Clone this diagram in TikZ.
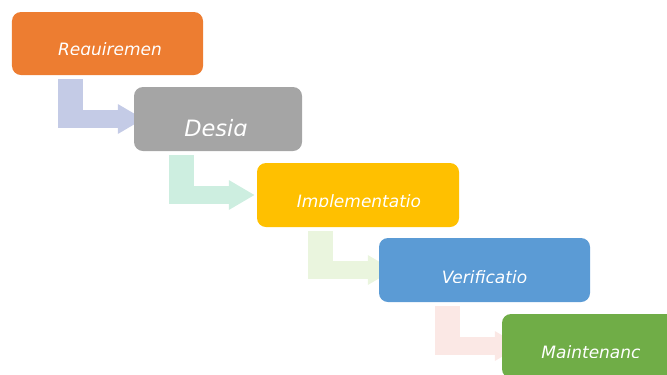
\documentclass[tikz,border=0pt]{standalone}
\usepackage{fontspec}
\setmainfont{DejaVu Sans}
\usetikzlibrary{arrows.meta,backgrounds}

\definecolor{reqorange}{HTML}{ED7D31}
\definecolor{desgray}{HTML}{A5A5A5}
\definecolor{impgold}{HTML}{FFC000}
\definecolor{verblue}{HTML}{5B9BD5}
\definecolor{mntgreen}{HTML}{70AD47}
\definecolor{flowlilac}{HTML}{C4CBE6}
\definecolor{flowmint}{HTML}{CDEEE0}
\definecolor{flowlime}{HTML}{EAF5DE}
\definecolor{flowrose}{HTML}{FBE8E5}

\begin{document}
\begin{tikzpicture}[x=1bp,y=-1bp,line join=miter,
  box/.style={rectangle,rounded corners=9bp,draw=none,minimum height=64bp,inner sep=0pt},
  lbl/.style={text=white,inner sep=0pt,anchor=base,font=\fontsize{17bp}{20bp}\selectfont\itshape},
  flow/.style={line width=18bp,-{Triangle[length=26bp,width=28bp]}},
  stem/.style={line width=25bp},
]
\useasboundingbox (0,0) rectangle (667,374);
%%
\node (req) at (107.5,43.5) [box,fill=reqorange,minimum width=191bp,minimum height=63bp] {};
\node (des) at (218,119) [box,fill=desgray,minimum width=168bp] {};
\node (imp) at (358,195) [box,fill=impgold,minimum width=202bp] {};
\node (ver) at (484.5,270) [box,fill=verblue,minimum width=211bp] {};
\node (mnt) at (595,346) [box,fill=mntgreen,minimum width=186bp] {};
%
\coordinate (s1) at ([xshift=58.5bp,yshift=-4bp]req.south west);
\coordinate (s2) at ([xshift=48bp,yshift=-4bp]des.south west);
\coordinate (s3) at ([xshift=63.5bp,yshift=-4bp]imp.south west);
\coordinate (s4) at ([xshift=69bp,yshift=-4bp]ver.south west);
\coordinate (b1) at ([yshift=-9bp]des.west);
\coordinate (b2) at ([yshift=-9bp]imp.west);
\coordinate (b3) at ([yshift=-9bp]ver.west);
\coordinate (b4) at ([yshift=-9bp]mnt.west);
\begin{scope}[on background layer]
  \draw [stem,flowlilac] (s1) -- (s1 |- b1);
  \draw [flow,flowlilac] (s1) |- ([xshift=10bp]des.west);
  \draw [stem,flowmint] (s2) -- (s2 |- b2);
  \draw [flow,flowmint] (s2) |- ([xshift=-2bp]imp.west);
  \draw [stem,flowlime] (s3) -- (s3 |- b3);
  \draw [flow,flowlime] (s3) |- ([xshift=15bp]ver.west);
  \draw [stem,flowrose] (s4) -- (s4 |- b4);
  \draw [flow,flowrose] (s4) |- ([xshift=19bp]mnt.west);
\end{scope}
% labels, cut off at the bottom
\begin{scope}
  \clip (req.north west) rectangle ([yshift=-10.5bp]req.east);
  \node (req_t) at ([xshift=2.5bp,yshift=-12bp]req.center) [lbl] {Requiremen};
\end{scope}
\begin{scope}
  \clip (des.north west) rectangle ([yshift=-16bp]des.east);
  \node (des_t) at ([xshift=-2bp,yshift=-17.5bp]des.center) [lbl,font=\fontsize{22.5bp}{26bp}\selectfont\itshape] {Desig};
\end{scope}
\begin{scope}
  \clip (imp.north west) rectangle ([yshift=-11bp]imp.east);
  \node (imp_t) at ([xshift=1bp,yshift=-12.5bp]imp.center) [lbl] {Implementatio};
\end{scope}
\begin{scope}
  \clip (ver.north west) rectangle ([yshift=-12bp]ver.east);
  \node (ver_t) at ([yshift=-13.5bp]ver.center) [lbl] {Verificatio};
\end{scope}
\begin{scope}
  \clip (mnt.north west) rectangle ([yshift=-11bp]mnt.east);
  \node (mnt_t) at ([xshift=-4bp,yshift=-12.5bp]mnt.center) [lbl] {Maintenanc};
\end{scope}
%
\end{tikzpicture}
\end{document}
